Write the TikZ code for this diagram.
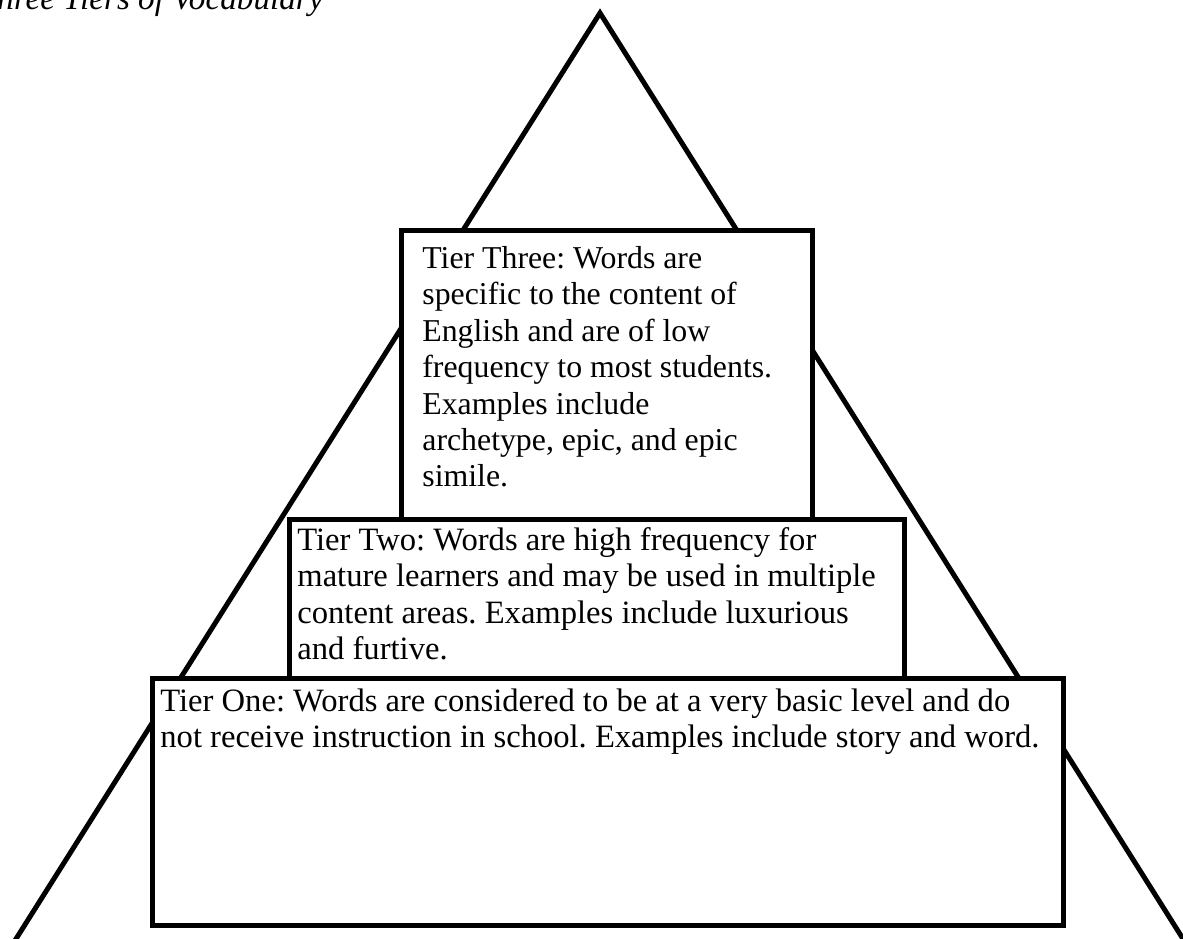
\documentclass[tikz,border=0pt]{standalone}
\usepackage{fontspec}
\setmainfont{Liberation Serif}
\frenchspacing
\begin{document}
\begin{tikzpicture}[x=0.5pt,y=-0.5pt,
  edge/.style={line width=2.5pt, line join=miter},
  tierbox/.style={draw, fill=white, line width=2.5pt, inner sep=0pt, anchor=north west},
  tiertext/.style={anchor=north west, inner sep=0pt, align=left, font=\fontsize{15.9pt}{18.2pt}\selectfont},
  widetext/.style={tiertext, font=\fontsize{16.3pt}{18.2pt}\selectfont},
  titletext/.style={anchor=base east, inner sep=0pt, font=\fontsize{16.6pt}{19pt}\selectfont\itshape}]
\useasboundingbox (0,0) rectangle (1183,938);
% title (cut off at the page edge, as in the reference)
\node[titletext] (title) at (324,9) {Three Tiers of Vocabulary};
% pyramid
\coordinate (apex) at (600,13);
\coordinate (bl) at (9,950);
\coordinate (br) at (1190,950);
\draw[edge] (bl) -- (apex) -- (br);
% tier three
\node[tierbox, minimum width=205.5pt, minimum height=151pt] (t3box) at (399,228) {};
\node[tiertext] (t3text) at (422,246) {Tier Three: Words are\\specific to the content of\\English and are of low\\frequency to most students.\\Examples include\\archetype, epic, and epic\\simile.};
% tier two
\node[tierbox, minimum width=307.5pt, minimum height=79.5pt] (t2box) at (287,517) {};
\node[widetext] (t2text) at (297,527) {Tier Two: Words are high frequency for\\mature learners and may be used in multiple\\content areas. Examples include luxurious\\and furtive.};
% tier one
\node[tierbox, minimum width=455.5pt, minimum height=123.5pt] (t1box) at (150,676) {};
\node[widetext] (t1text) at (160,688) {Tier One: Words are considered to be at a very basic level and do\\not receive instruction in school. Examples include story and word.};
\end{tikzpicture}
\end{document}
